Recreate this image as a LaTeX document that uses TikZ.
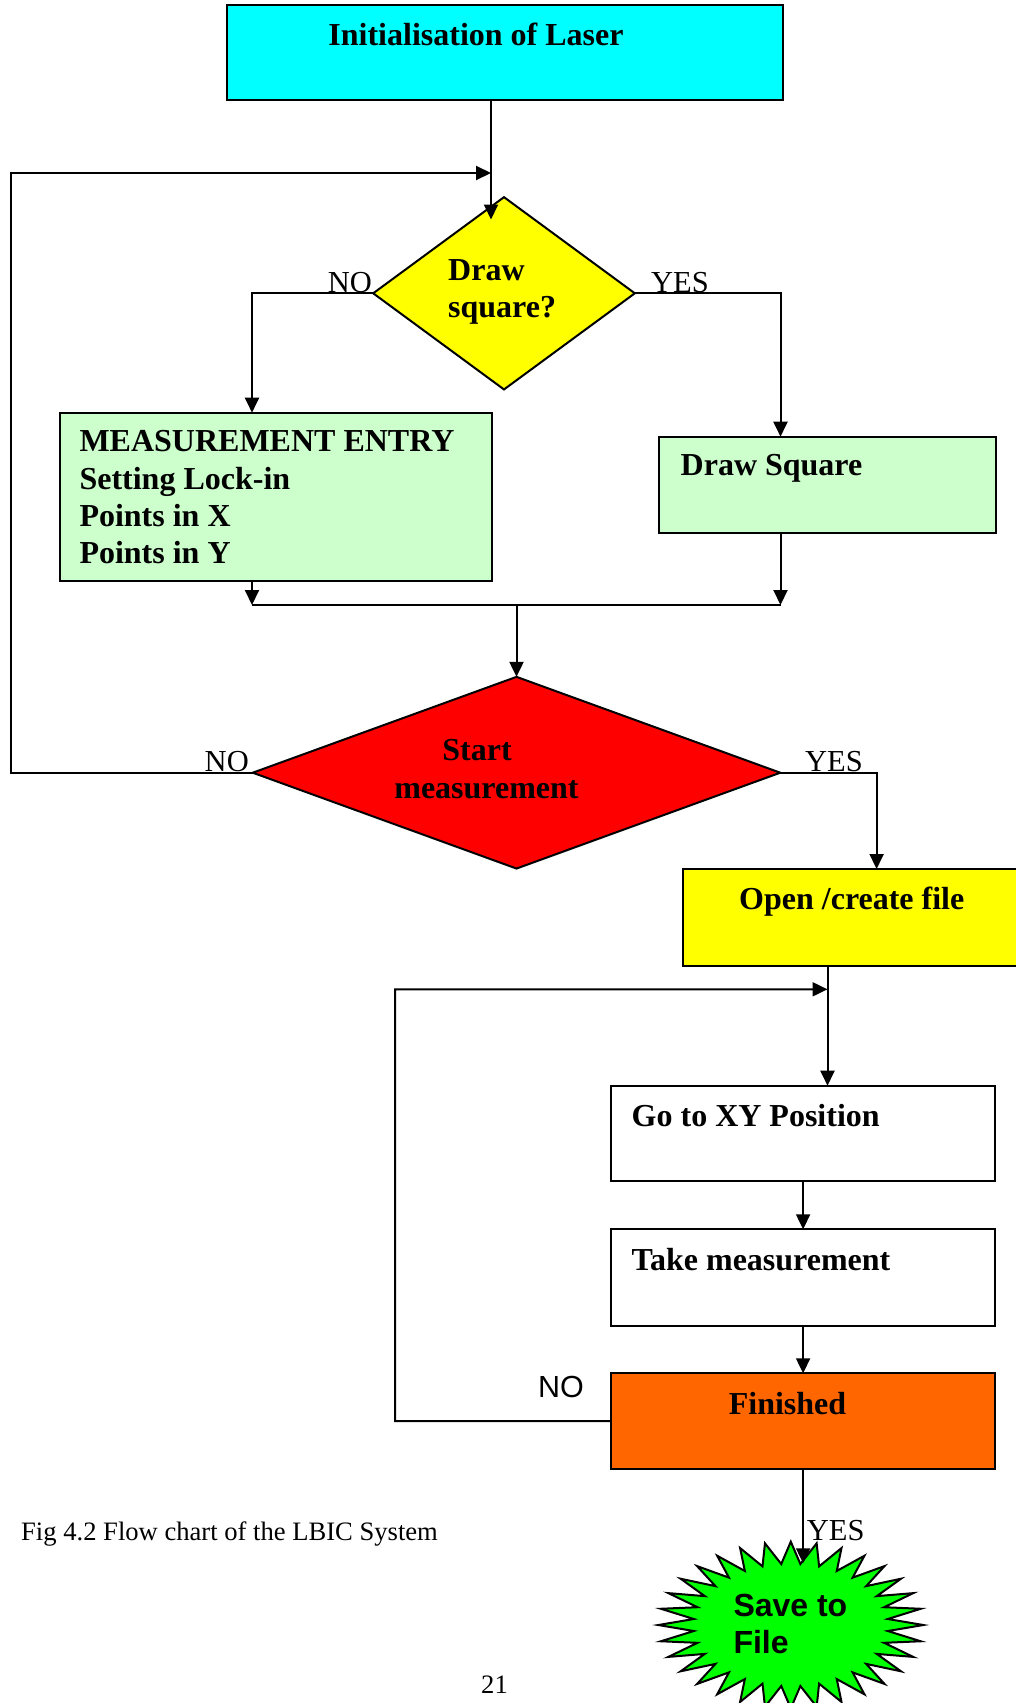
\documentclass[tikz,border=0pt]{standalone}
\usepackage{fontspec}
\setmainfont{Liberation Serif}
\newfontfamily\arialfont{Liberation Sans}
\usetikzlibrary{shapes.geometric,arrows.meta}
\definecolor{cyanc}{HTML}{00FFFF}
\definecolor{yellowc}{HTML}{FFFF00}
\definecolor{mintc}{HTML}{CCFFCC}
\definecolor{redc}{HTML}{FF0000}
\definecolor{orangec}{HTML}{FF6600}
\definecolor{greenc}{HTML}{00FF00}
\tikzset{
  box/.style={draw=black, line width=2pt, rectangle, inner sep=0pt, outer sep=0pt, anchor=north west},
  dia/.style={draw=black, line width=2pt, diamond, inner sep=0pt, outer sep=0pt},
  txt/.style={inner sep=0pt, font=\bfseries\fontsize{32}{37}\selectfont},
  stxt/.style={inner sep=0pt, font=\arialfont\bfseries\fontsize{32}{37}\selectfont},
  lbl/.style={inner sep=0pt, font=\fontsize{30.5}{35}\selectfont},
  slbl/.style={inner sep=0pt, font=\arialfont\fontsize{30.5}{35}\selectfont},
  captxt/.style={inner sep=0pt, font=\fontsize{26.6}{31}\selectfont},
  conn/.style={line width=2pt},
  arr/.style={line width=2pt, -{Triangle[length=15pt,width=14pt]}},
}
\begin{document}
\begin{tikzpicture}[x=1pt,y=-1pt]
\useasboundingbox (0,0) rectangle (1016,1703);
\fill[white] (0,0) rectangle (1016,1703);
\clip (0,0) rectangle (1016,1703);

% boxes
\node[box, fill=cyanc, minimum width=556, minimum height=95] (init) at (227,5) {};
\node[txt, anchor=base] (initT) at (476,45) {Initialisation of Laser};

\node[dia, fill=yellowc, minimum width=261.6, minimum height=192.3] (d1) at (504,293.3) {};
\node[txt, anchor=base west] (d1a) at (448,280) {Draw};
\node[txt, anchor=base west] (d1b) at (448,317) {square?};
\node[lbl, anchor=base east] (no1) at (372,292) {NO};
\node[lbl, anchor=base west] (yes1) at (651,292) {YES};

\node[box, fill=mintc, minimum width=432, minimum height=168.3] (meas) at (60,412.7) {};
\node[txt, anchor=base west] (m1) at (79.3,451.7) {MEASUREMENT ENTRY};
\node[txt, anchor=base west] (m2) at (79.3,489) {Setting Lock-in};
\node[txt, anchor=base west] (m3) at (79.3,526) {Points in X};
\node[txt, anchor=base west] (m4) at (79.3,563) {Points in Y};

\node[box, fill=mintc, minimum width=337, minimum height=96] (dsq) at (659,436.7) {};
\node[txt, anchor=base west] (dsqT) at (680.5,475) {Draw Square};

\node[dia, fill=redc, minimum width=527.5, minimum height=191.7] (d2) at (516.5,772.7) {};
\node[txt, anchor=base] (d2a) at (477,760) {Start};
\node[txt, anchor=base] (d2b) at (486.5,798) {measurement};
\node[lbl, anchor=base east] (no2) at (249,771.5) {NO};
\node[lbl, anchor=base west] (yes2) at (805,771.5) {YES};

\node[box, fill=yellowc, minimum width=360, minimum height=97] (open) at (683,869) {};
\node[txt, anchor=base west] (openT) at (739,909.3) {Open /create file};

\node[box, fill=white, minimum width=384.6, minimum height=95.3] (go) at (610.8,1085.7) {};
\node[txt, anchor=base west] (goT) at (631.5,1126.7) {Go to XY Position};

\node[box, fill=white, minimum width=384.6, minimum height=96.4] (take) at (610.8,1229.3) {};
\node[txt, anchor=base west] (takeT) at (631.5,1270.7) {Take measurement};

\node[box, fill=orangec, minimum width=384.6, minimum height=95.7] (fin) at (610.8,1373.3) {};
\node[txt, anchor=base] (finT) at (787.5,1414) {Finished};
\node[slbl, anchor=base west] (no3) at (538,1397.3) {NO};
\node[lbl, anchor=base west] (yes3) at (806.7,1540) {YES};

% starburst
\draw[line width=2pt, fill=greenc, line join=miter]
  plot[samples at={0,...,63}]
  ({790.8+(mod(\x,2)==0 ? 132.5 : 97.5)*cos(\x*5.625)},
   {1625+(mod(\x,2)==0 ? 83.3 : 61.3)*sin(\x*5.625)}) -- cycle;
\node[ellipse, inner sep=0pt, minimum width=265, minimum height=166.6] (save) at (790.8,1625) {};
\node[stxt, anchor=base west] (s1) at (733.3,1616.7) {Save to};
\node[stxt, anchor=base west] (s2) at (733.3,1653.3) {File};

\node[captxt, anchor=base west] (caption) at (21,1540) {Fig 4.2 Flow chart of the LBIC System};
\node[captxt, anchor=base west] (pageno) at (481,1693) {21};

% junction coordinates
\coordinate (topjoin) at (491,173);
\coordinate (d1in) at (491,219.5);
\coordinate (loopL) at (11,772.7);
\coordinate (measin) at (252,412.7);
\coordinate (dsqin) at (780.5,436.7);
\coordinate (mj1) at (252,605);
\coordinate (mj2) at (780.5,605);
\coordinate (openin) at (876.6,869);
\coordinate (loop2join) at (827.5,989.3);
\coordinate (loop2L) at (395,1421.2);
\coordinate (saveTop) at (803.1,1563.3);

% connectors
\draw[arr] (init.south -| topjoin) -- (d1in);
\draw[arr] (d2.west) -- (loopL) |- (topjoin);
\draw[arr] (d1.west) -| (measin);
\draw[arr] (d1.east) -| (dsqin);
\draw[arr] (meas.south -| measin) -- (mj1);
\draw[arr] (dsq.south -| dsqin) -- (mj2);
\draw[conn] (mj1) -- (mj2);
\draw[arr] (mj1 -| d2.north) -- (d2.north);
\draw[arr] (d2.east) -| (openin);
\draw[arr] (open.south -| loop2join) -- (go.north -| loop2join);
\draw[arr] (go.south) -- (take.north);
\draw[arr] (take.south) -- (fin.north);
\draw[arr] (fin.west) -- (loop2L) |- (loop2join);
\draw[arr] (fin.south) -- (saveTop);
\end{tikzpicture}
\end{document}
